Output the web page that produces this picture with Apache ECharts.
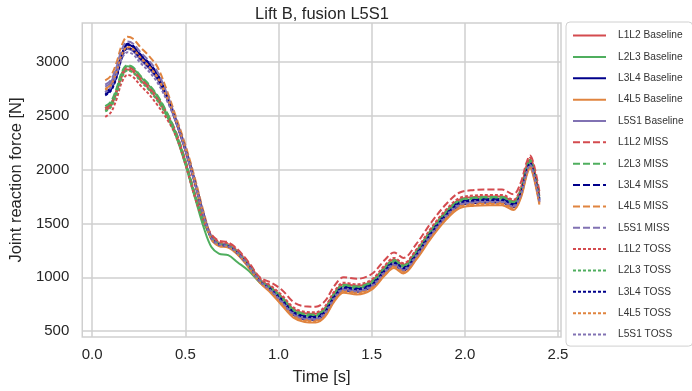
<!DOCTYPE html>
<html>
<head>
<meta charset="utf-8">
<script src="https://cdn.jsdelivr.net/npm/echarts@6/dist/echarts.min.js"></script>
<style>
  html, body { margin: 0; padding: 0; background: #fff; }
  #chart { width: 692px; height: 391px; }
</style>
</head>
<body>
<div id="chart"></div>
<script>
// time axis [s]
let time = [0.07,0.10,0.13,0.16,0.19,0.22,0.26,0.30,0.35,0.40,0.45,0.50,0.55,0.60,0.64,0.68,0.73,0.78,0.84,0.90,0.96,1.02,1.08,1.14,1.20,1.25,1.30,1.35,1.42,1.50,1.57,1.62,1.67,1.74,1.82,1.90,1.97,2.05,2.13,2.20,2.26,2.30,2.33,2.35,2.37,2.40];

let xTicks = [0, 0.5, 1.0, 1.5, 2.0, 2.5];
let yTicks = [500, 1000, 1500, 2000, 2500, 3000];

// joint reaction force [N]
let l1l2Baseline = [2550,2590,2710,2870,2930,2910,2830,2760,2650,2510,2330,2070,1770,1515,1380,1320,1305,1240,1120,980,908,815,705,665,660,715,855,935,920,965,1095,1165,1115,1245,1445,1615,1720,1745,1750,1750,1705,1815,2015,2095,2005,1755];
let l2l3Baseline = [2570,2610,2730,2895,2960,2940,2860,2790,2680,2515,2310,2050,1750,1455,1280,1220,1205,1140,1060,950,880,795,685,645,640,695,835,915,900,945,1075,1145,1095,1225,1425,1595,1700,1725,1730,1730,1685,1795,1995,2075,1985,1735];
let l3l4Baseline = [2700,2740,2860,3060,3160,3140,3060,2990,2880,2680,2440,2180,1880,1560,1360,1300,1285,1220,1100,960,870,760,650,610,605,660,800,880,865,910,1040,1110,1060,1190,1390,1560,1665,1690,1695,1695,1650,1760,1960,2040,1950,1700];
let l4l5Baseline = [2750,2790,2910,3070,3130,3110,3030,2960,2850,2675,2460,2200,1900,1565,1350,1290,1275,1210,1090,950,852,735,625,585,580,635,775,855,840,885,1015,1085,1035,1165,1365,1535,1640,1665,1670,1670,1625,1735,1935,2015,1925,1675];
let l5s1Baseline = [2770,2810,2930,3075,3120,3100,3020,2950,2840,2665,2450,2190,1890,1565,1360,1300,1285,1220,1100,960,875,770,660,620,615,670,810,890,875,920,1050,1120,1070,1200,1400,1570,1675,1700,1705,1705,1660,1770,1970,2050,1960,1710];

let l1l2Miss = [2570,2610,2730,2890,2950,2930,2850,2780,2670,2530,2350,2090,1790,1535,1400,1340,1325,1260,1140,1000,950,880,770,730,725,780,920,1000,985,1030,1160,1230,1180,1310,1510,1680,1785,1810,1815,1815,1770,1880,2060,2130,2050,1800];
let l2l3Miss = [2590,2630,2750,2910,2970,2950,2870,2800,2690,2535,2340,2080,1780,1515,1370,1310,1295,1230,1110,970,900,810,700,660,655,710,850,930,915,960,1090,1160,1110,1240,1440,1610,1715,1740,1745,1745,1700,1810,2010,2090,2000,1750];
let l3l4Miss = [2720,2760,2880,3075,3170,3150,3070,3000,2890,2695,2460,2200,1900,1575,1370,1310,1295,1230,1110,970,890,790,680,640,635,690,830,910,895,940,1070,1140,1090,1220,1420,1590,1695,1720,1725,1725,1680,1790,1990,2070,1980,1730];
let l4l5Miss = [2830,2870,2990,3160,3235,3215,3135,3065,2955,2740,2490,2230,1930,1595,1380,1320,1305,1240,1120,980,878,755,645,605,600,655,795,875,860,905,1035,1105,1055,1185,1385,1555,1660,1685,1690,1690,1645,1755,1955,2035,1945,1695];
let l5s1Miss = [2790,2830,2950,3120,3190,3170,3090,3020,2910,2710,2470,2210,1910,1582,1375,1315,1300,1235,1115,975,885,775,665,625,620,675,815,895,880,925,1055,1125,1075,1205,1405,1575,1680,1705,1710,1710,1665,1775,1975,2055,1965,1715];

let l1l2Toss = [2490,2530,2650,2815,2880,2860,2780,2710,2600,2475,2310,2050,1750,1510,1390,1330,1315,1250,1130,990,920,830,720,680,675,730,870,950,935,980,1110,1180,1130,1260,1460,1630,1735,1760,1765,1765,1720,1830,2030,2110,2020,1770];
let l2l3Toss = [2540,2580,2700,2860,2920,2900,2820,2750,2640,2500,2320,2060,1760,1505,1370,1310,1295,1230,1110,970,898,805,695,655,650,705,845,925,910,955,1085,1155,1105,1235,1435,1605,1710,1735,1740,1740,1695,1805,2005,2085,1995,1745];
let l3l4Toss = [2690,2730,2850,3040,3130,3110,3030,2960,2850,2670,2450,2190,1890,1568,1365,1305,1290,1225,1105,965,882,780,670,630,625,680,820,900,885,930,1060,1130,1080,1210,1410,1580,1685,1710,1715,1715,1670,1780,1980,2060,1970,1720];
let l4l5Toss = [2740,2780,2900,3070,3140,3120,3040,2970,2860,2677,2455,2195,1895,1565,1355,1295,1280,1215,1095,955,860,745,635,595,590,645,785,865,850,895,1025,1095,1045,1175,1375,1545,1650,1675,1680,1680,1635,1745,1945,2025,1935,1685];
let l5s1Toss = [2720,2760,2880,3035,3090,3070,2990,2920,2810,2645,2440,2180,1880,1563,1365,1305,1290,1225,1105,965,875,765,655,615,610,665,805,885,870,915,1045,1115,1065,1195,1395,1565,1670,1695,1700,1700,1655,1765,1965,2045,1955,1705];

let levels = ['L1L2', 'L2L3', 'L3L4', 'L4L5', 'L5S1'];
let colors = ['#d44b4f', '#4fae5e', '#00008b', '#e0843f', '#8172b3'];

let groups = [
  { tag: 'Baseline', dash: 'solid', data: [l1l2Baseline, l2l3Baseline, l3l4Baseline, l4l5Baseline, l5s1Baseline] },
  { tag: 'MISS', dash: [7, 3], data: [l1l2Miss, l2l3Miss, l3l4Miss, l4l5Miss, l5s1Miss] },
  { tag: 'TOSS', dash: [3, 2], data: [l1l2Toss, l2l3Toss, l3l4Toss, l4l5Toss, l5s1Toss] }
];

let series = [];
groups.forEach((g) => {
  levels.forEach((lv, i) => {
    series.push({
      name: lv + ' ' + g.tag,
      type: 'line',
      symbol: 'none',
      smooth: 0.35,
      color: colors[i],
      lineStyle: { width: 2, type: g.dash, color: colors[i] },
      data: time.map((t, k) => [t, g.data[i][k]])
    });
  });
});

let gridColor = '#cfcfcf';
let font = 'Liberation Sans, Arial, sans-serif';

let option = {
  backgroundColor: '#fff',
  animation: false,
  title: {
    text: 'Lift B, fusion L5S1',
    left: 317,
    top: 1,
    textAlign: 'center',
    textStyle: { fontFamily: font, fontSize: 16.5, fontWeight: 'normal', color: '#262626' }
  },
  grid: {
    left: 73, top: 23, right: 131, bottom: 52,
    show: true, borderColor: gridColor, borderWidth: 1.5, backgroundColor: '#fff'
  },
  legend: {
    orient: 'vertical',
    left: 566,
    top: 22,
    width: 112,
    padding: [8, 9, 6, 6],
    itemWidth: 33,
    itemHeight: 14,
    itemGap: 10.15,
    backgroundColor: '#fff',
    borderColor: '#d0d0d0',
    borderWidth: 1,
    borderRadius: 4,
    // hide the symbol that ECharts puts on line icons, keep the dashed line
    itemStyle: { opacity: 0 },
    textStyle: { fontFamily: font, fontSize: 10.2, color: '#333', padding: [0, 0, 0, 7] },
    data: series.map(s => s.name)
  },
  xAxis: {
    type: 'value',
    min: -0.053,
    max: 2.516,
    name: 'Time [s]',
    nameLocation: 'middle',
    nameGap: 32,
    nameTextStyle: { fontFamily: font, fontSize: 16.5, color: '#262626' },
    axisLine: { show: false },
    axisTick: { show: false, customValues: xTicks },
    axisLabel: {
      customValues: xTicks,
      margin: 10,
      fontFamily: font, fontSize: 15, color: '#262626',
      formatter: v => v.toFixed(1)
    },
    splitLine: { show: true, lineStyle: { color: gridColor, width: 1.5 } }
  },
  yAxis: {
    type: 'value',
    min: 445,
    max: 3362,
    name: 'Joint reaction force [N]',
    nameLocation: 'middle',
    nameGap: 49,
    nameTextStyle: { fontFamily: font, fontSize: 16.5, color: '#262626' },
    axisLine: { show: false },
    axisTick: { show: false, customValues: yTicks },
    axisLabel: {
      customValues: yTicks,
      margin: 13,
      fontFamily: font, fontSize: 15, color: '#262626',
      formatter: v => String(v)
    },
    splitLine: { show: true, lineStyle: { color: gridColor, width: 1.5 } }
  },
  series: series
};

let chart = echarts.init(document.getElementById('chart'), null, { renderer: 'canvas' });
chart.setOption(option);
</script>
</body>
</html>
